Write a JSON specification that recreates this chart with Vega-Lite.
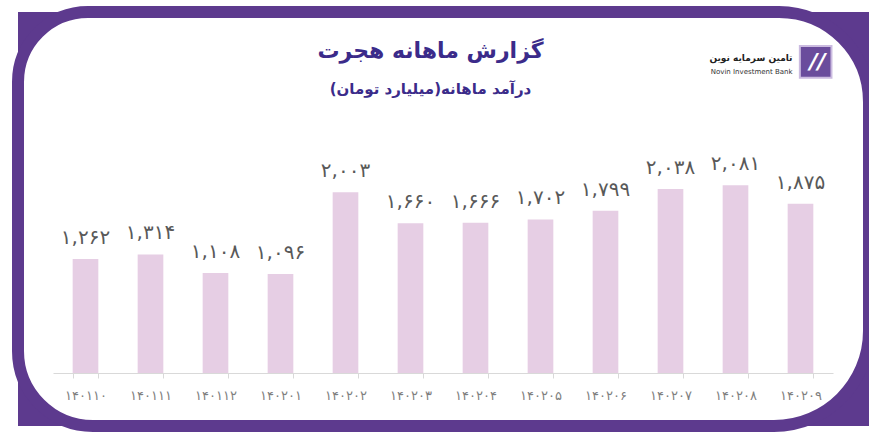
{
  "$schema": "https://vega.github.io/schema/vega-lite/v6.json",
  "width": 851,
  "height": 414,
  "autosize": "none",
  "padding": {"left": 18, "top": 12, "right": 0, "bottom": 14},
  "background": "white",
  "title": {
    "text": "گزارش ماهانه هجرت",
    "subtitle": "درآمد ماهانه(میلیارد تومان)",
    "anchor": "middle",
    "frame": "group",
    "offset": -92,
    "dx": -13,
    "font": "DejaVu Sans",
    "fontSize": 22,
    "fontWeight": "bold",
    "color": "#3b2b8a",
    "subtitleFont": "DejaVu Sans",
    "subtitleFontSize": 15,
    "subtitleFontWeight": "bold",
    "subtitleColor": "#3b2b8a",
    "subtitlePadding": 19
  },
  "data": {
    "values": [
      {"month": "۱۴۰۱۱۰", "value": 1262},
      {"month": "۱۴۰۱۱۱", "value": 1314},
      {"month": "۱۴۰۱۱۲", "value": 1108},
      {"month": "۱۴۰۲۰۱", "value": 1096},
      {"month": "۱۴۰۲۰۲", "value": 2003},
      {"month": "۱۴۰۲۰۳", "value": 1660},
      {"month": "۱۴۰۲۰۴", "value": 1666},
      {"month": "۱۴۰۲۰۵", "value": 1702},
      {"month": "۱۴۰۲۰۶", "value": 1799},
      {"month": "۱۴۰۲۰۷", "value": 2038},
      {"month": "۱۴۰۲۰۸", "value": 2081},
      {"month": "۱۴۰۲۰۹", "value": 1875}
    ]
  },
  "layer": [
    {
      "data": {"values": [{}]},
      "mark": {
        "type": "rect",
        "fill": "white",
        "stroke": "#5d3a8e",
        "strokeWidth": 12,
        "cornerRadiusTopLeft": 70,
        "cornerRadiusTopRight": 90,
        "cornerRadiusBottomRight": 95,
        "cornerRadiusBottomLeft": 75
      },
      "encoding": {}
    },
    {
      "mark": {"type": "bar", "color": "#e6cee4"},
      "encoding": {
        "x": {
          "field": "month",
          "type": "nominal",
          "sort": null,
          "scale": {"range": [35, 815], "paddingInner": 0.605, "paddingOuter": 0.3025},
          "axis": {
            "title": null,
            "labelAngle": 0,
            "labelFont": "DejaVu Sans",
            "labelFontSize": 13,
            "labelColor": "#7f7f7f",
            "domainColor": "#d9d9d9",
            "tickColor": "#d9d9d9",
            "tickSize": 5,
            "tickBand": "extent",
            "labelPadding": 11,
            "offset": -53,
            "grid": false,
            "zindex": 1
          }
        },
        "y": {
          "field": "value",
          "type": "quantitative",
          "scale": {"domain": [0, 3877], "range": [361, 0]},
          "axis": null
        }
      }
    },
    {
      "mark": {"type": "text", "dy": -15, "baseline": "alphabetic", "font": "DejaVu Sans", "fontSize": 20, "color": "#595959"},
      "encoding": {
        "x": {"field": "month", "type": "nominal", "sort": null},
        "y": {"field": "value", "type": "quantitative"},
        "text": {"field": "value", "type": "quantitative", "format": ","}
      }
    },
    {
      "data": {"values": [{}]},
      "mark": {"type": "point", "shape": "square", "size": 1000, "filled": true, "fill": "#6a4c9c", "stroke": "#cbbbe0", "strokeWidth": 2, "opacity": 1},
      "encoding": {
        "x": {"datum": "۱۴۰۲۰۹"},
        "xOffset": {"value": 28},
        "y": {"datum": 3448}
      }
    },
    {
      "data": {"values": [{}]},
      "mark": {"type": "text", "text": "//", "dx": 17, "font": "DejaVu Sans", "fontSize": 22, "fontStyle": "italic", "fontWeight": "bold", "color": "white", "baseline": "middle"},
      "encoding": {
        "x": {"datum": "۱۴۰۲۰۹"},
        "y": {"datum": 3448}
      }
    },
    {
      "data": {"values": [{}]},
      "mark": {"type": "text", "text": "تامین سرمایه نوین", "dx": -8, "align": "right", "baseline": "middle", "font": "DejaVu Sans", "fontSize": 9, "fontWeight": "bold", "color": "#222222"},
      "encoding": {
        "x": {"datum": "۱۴۰۲۰۹"},
        "y": {"datum": 3490}
      }
    },
    {
      "data": {"values": [{}]},
      "mark": {"type": "text", "text": "Novin Investment Bank", "dx": -8, "align": "right", "baseline": "middle", "font": "DejaVu Sans", "fontSize": 7, "color": "#333333"},
      "encoding": {
        "x": {"datum": "۱۴۰۲۰۹"},
        "y": {"datum": 3330}
      }
    }
  ],
  "config": {
    "view": {"stroke": null, "fill": "#5d3a8e"},
    "locale": {
      "number": {
        "decimal": ".",
        "thousands": ",",
        "grouping": [3],
        "currency": ["", ""],
        "numerals": ["۰", "۱", "۲", "۳", "۴", "۵", "۶", "۷", "۸", "۹"]
      }
    }
  }
}
